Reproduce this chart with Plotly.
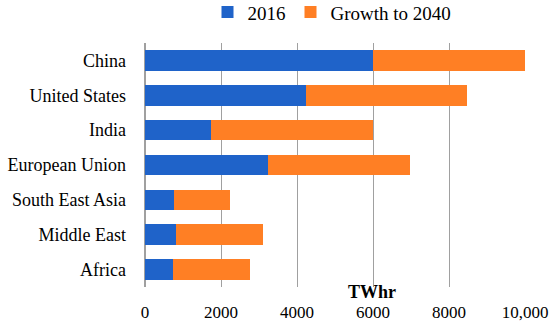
import plotly.graph_objects as go

regions = ["China", "United States", "India", "European Union", "South East Asia", "Middle East", "Africa"]
base_2016 = [6000, 4240, 1740, 3240, 760, 820, 740]
growth_2040 = [4000, 4230, 4260, 3730, 1480, 2280, 2020]
tick_vals = [0, 2000, 4000, 6000, 8000, 10000]
tick_text = ["0", "2000", "4000", "6000", "8000", "10,000"]

font_family = "Liberation Serif"

fig = go.Figure()
fig.add_trace(go.Bar(y=regions, x=base_2016, name="2016", orientation="h",
                     marker=dict(color="#1F63C9", line=dict(width=0))))
fig.add_trace(go.Bar(y=regions, x=growth_2040, name="Growth to 2040", orientation="h",
                     marker=dict(color="#FF7F24", line=dict(width=0))))

fig.update_layout(
    width=550, height=322,
    barmode="stack", bargap=0.41,
    margin=dict(l=145, r=25, t=43, b=35, autoexpand=False),
    paper_bgcolor="white", plot_bgcolor="white",
    font=dict(family=font_family, size=18, color="black"),
    legend=dict(orientation="h", x=(332-145)/380, xanchor="center", y=0.962, yref="container", yanchor="middle",
                font=dict(size=19), traceorder="normal", itemwidth=30),
    showlegend=True,
)
fig.update_xaxes(range=[0, 10000], tickvals=tick_vals, ticktext=tick_text, automargin=False,
                 showgrid=True, gridcolor="#A0A0A0", gridwidth=1,
                 ticks="", zeroline=True, zerolinecolor="#A0A0A0", showline=False,
                 tickfont=dict(size=17), ticklabelstandoff=13)
fig.update_yaxes(autorange="reversed", showgrid=False, ticks="", tickfont=dict(size=18),
                 ticklabelstandoff=18, automargin=False)
fig.add_annotation(text="<b>TWhr</b>", xref="paper", yref="paper", x=(372-145)/380, y=-0.02,
                   xanchor="center", yanchor="middle", showarrow=False, font=dict(size=18))

fig.write_html("out.html", post_script="document.body.style.margin='0';",
               config={"displayModeBar": False})
